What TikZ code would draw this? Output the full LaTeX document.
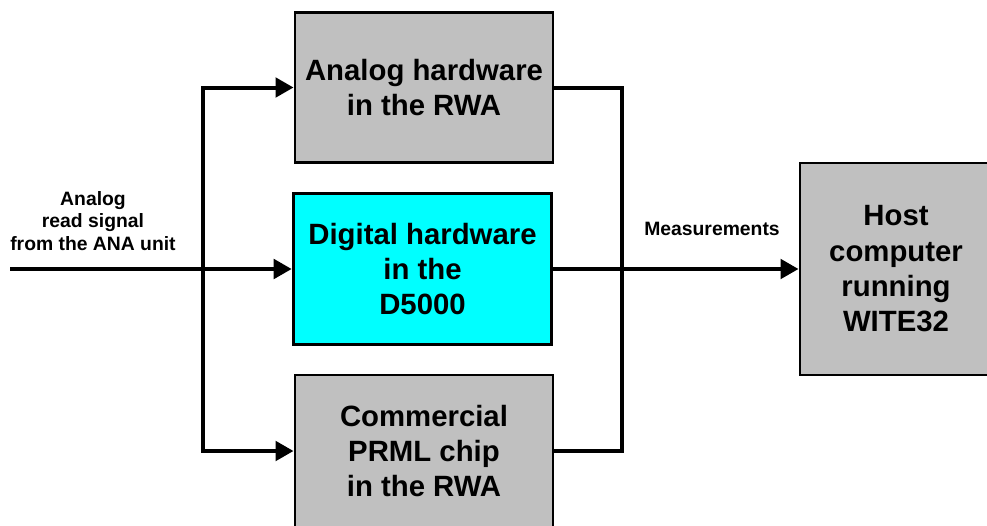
\documentclass[tikz,border=0pt]{standalone}
\usepackage{fontspec}
\setmainfont{Liberation Sans}
\usetikzlibrary{arrows.meta}

\definecolor{boxgray}{HTML}{C0C0C0}
\definecolor{boxcyan}{HTML}{00FFFF}

\tikzset{
  block/.style={draw, line width=2.2pt, fill=boxgray, align=center,
    font=\fontsize{22}{26.5}\selectfont\bfseries, inner sep=0pt},
  wire/.style={line width=3pt, line join=miter},
  link/.style={wire, -{Triangle[length=13.5pt, width=14.5pt]}},
  lbl/.style={align=center, font=\fontsize{14.5}{17}\selectfont\bfseries}
}

\begin{document}
\begin{tikzpicture}[x=0.75pt, y=-0.75pt]

\clip (0,0) rectangle (987,525);

% Three paths through the hardware
\node[block, minimum width=193.5pt, minimum height=113pt] (ana) at (424,87.5)
  {Analog hardware\\in the RWA};
\node[block, fill=boxcyan, minimum width=194pt, minimum height=113pt] (dig) at (422.5,269)
  {Digital hardware\\in the\\D5000};
\node[block, minimum width=193.5pt, minimum height=114pt] (prml) at (424,451)
  {Commercial\\PRML chip\\in the RWA};

% Host
\node[block, minimum width=144pt, minimum height=159pt] (host) at (896,269)
  {Host\\computer\\running\\WITE32};

% Branch and merge points
\coordinate (src) at (10,269);
\coordinate (split) at (203,269);
\coordinate (join) at (622,269);

% Input
\draw[link] (src) -- (dig.west);
\draw[link] (split) |- (ana.west);
\draw[link] (split) |- (prml.west);
\node[lbl] (inlbl) at (93,221) {Analog\\read signal\\from the ANA unit};

% Outputs
\draw[wire] (ana.east) -| (join) |- (prml.east);
\draw[link] (dig.east) -- (host.west);
\node[lbl] (meas) at (712,229) {Measurements};

\end{tikzpicture}
\end{document}
